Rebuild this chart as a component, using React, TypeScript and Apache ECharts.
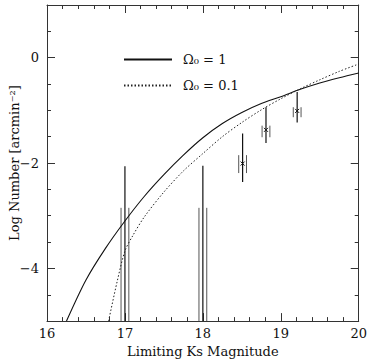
import React, { useEffect, useRef } from "react";
import * as echarts from "echarts";

// Model curves (Limiting Ks magnitude vs log number)
const omega1X = [16.25, 16.5, 16.75, 17.0, 17.25, 17.5, 17.75, 18.0, 18.25, 18.5, 18.75, 19.0, 19.25, 19.5, 19.75, 20.0];
const omega1Y = [-5.0, -4.22, -3.62, -3.1, -2.63, -2.22, -1.85, -1.52, -1.25, -1.04, -0.87, -0.74, -0.6, -0.48, -0.38, -0.29];
const omega01X = [16.79, 16.9, 17.0, 17.1, 17.25, 17.5, 17.75, 18.0, 18.25, 18.5, 18.75, 19.0, 19.25, 19.5, 19.75, 20.0];
const omega01Y = [-5.0, -4.25, -3.67, -3.38, -3.02, -2.55, -2.15, -1.82, -1.5, -1.23, -0.99, -0.78, -0.59, -0.42, -0.26, -0.12];

// Observed counts with error bars
const pointX = [17.0, 18.0, 18.51, 18.81, 19.21];
const pointY = [-6.0, -6.0, -2.01, -1.37, -1.01];
const errHigh = [-2.06, -2.05, -1.44, -0.94, -0.65];
const errLow = [-7.0, -7.0, -2.36, -1.62, -1.23];
const sideLeftX = [16.95, 17.95, 18.46, 18.76, 19.16];
const sideRightX = [17.05, 18.05, 18.56, 18.86, 19.26];
const sideHigh = [-2.85, -2.85, -1.85, -1.29, -0.94];
const sideLow = [-7.0, -7.0, -2.19, -1.51, -1.13];

const xTickValues = [16, 17, 18, 19, 20];
const xTickLabels = ["16", "17", "18", "19", "20"];
const yTickValues = [-4, -2, 0];
const yTickLabels = ["\u22124", "\u22122", "0"];

const seriesNames = ["\u03A9\u2080 = 1", "\u03A9\u2080 = 0.1"];

const X_MIN = 16, X_MAX = 20, Y_MIN = -5, Y_MAX = 1;
const FONT = "DejaVu Serif";
const AXIS_COLOR = "#333";

export default function App() {
  const ref = useRef<HTMLDivElement>(null);
  useEffect(() => {
    document.body.style.margin = "0";
    const chart = echarts.init(ref.current!, null, { renderer: "svg" });
    const clampY = (v: number) => Math.min(Math.max(v, Y_MIN), Y_MAX);
    const errData = pointX.map((x, i) => [x, pointY[i], errLow[i], errHigh[i], sideLeftX[i], sideRightX[i], sideLow[i], sideHigh[i]]);

    const baseX = {
      type: "value",
      min: X_MIN,
      max: X_MAX,
      interval: 1,
      splitLine: { show: false },
      axisLine: { show: true, onZero: false, lineStyle: { color: AXIS_COLOR, width: 1 } },
      axisTick: { show: true, inside: true, length: 8, lineStyle: { color: AXIS_COLOR, width: 1 } },
      minorTick: { show: true, splitNumber: 5, length: 4, lineStyle: { color: AXIS_COLOR, width: 1 } },
    };
    const baseYMinor = {
      type: "value",
      min: Y_MIN,
      max: Y_MAX,
      interval: 0.5,
      splitLine: { show: false },
      axisLine: { show: true, onZero: false, lineStyle: { color: AXIS_COLOR, width: 1 } },
      axisTick: { show: true, inside: true, length: 4, lineStyle: { color: AXIS_COLOR, width: 1 } },
      axisLabel: { show: false },
    };
    const baseYMajor = {
      type: "value",
      min: Y_MIN,
      max: Y_MAX,
      interval: 0.5,
      splitLine: { show: false },
      axisLine: { show: false },
      axisTick: { show: true, inside: true, length: 8, customValues: yTickValues, lineStyle: { color: AXIS_COLOR, width: 1 } },
      axisLabel: { show: false },
    };

    chart.setOption({
      animation: false,
      grid: { left: 41, top: 5, right: 4, bottom: 35, containLabel: false },
      legend: {
        show: true,
        orient: "vertical",
        left: 123,
        top: 53,
        padding: 0,
        itemWidth: 48,
        itemHeight: 14,
        itemGap: 13,
        selectedMode: false,
        data: seriesNames,
        itemStyle: { opacity: 0 },
        textStyle: { fontFamily: FONT, fontSize: 13, color: "#111", padding: [0, 0, 0, 6] },
      },
      xAxis: [
        {
          ...baseX,
          position: "bottom",
          axisLabel: {
            show: true,
            margin: 6,
            fontFamily: FONT,
            fontSize: 13,
            color: "#111",
            formatter: (v: number) => {
              const i = xTickValues.indexOf(Math.round(v * 1000) / 1000);
              return i >= 0 ? xTickLabels[i] : "";
            },
          },
          name: "Limiting Ks Magnitude",
          nameLocation: "middle",
          nameGap: 19,
          nameTextStyle: { fontFamily: FONT, fontSize: 13, color: "#111" },
        },
        { ...baseX, position: "top", axisLabel: { show: false } },
      ],
      yAxis: [
        {
          ...baseYMinor,
          position: "left",
          name: "Log Number [arcmin\u207B\u00B2]",
          nameLocation: "middle",
          nameGap: 26,
          nameRotate: 90,
          nameTextStyle: { fontFamily: FONT, fontSize: 13, color: "#111" },
        },
        {
          ...baseYMajor,
          position: "left",
          axisLabel: {
            show: true,
            customValues: yTickValues,
            margin: 8,
            fontFamily: FONT,
            fontSize: 13,
            color: "#111",
            formatter: (v: number) => {
              const i = yTickValues.indexOf(Math.round(v * 1000) / 1000);
              return i >= 0 ? yTickLabels[i] : "";
            },
          },
        },
        { ...baseYMinor, position: "right" },
        { ...baseYMajor, position: "right" },
      ],
      series: [
        {
          name: seriesNames[0],
          type: "line",
          xAxisIndex: 0,
          yAxisIndex: 0,
          data: omega1X.map((x, i) => [x, omega1Y[i]]),
          smooth: 0.3,
          symbol: "none",
          clip: true,
          lineStyle: { color: "#111", width: 1.1, type: "solid" },
          itemStyle: { color: "#111" },
        },
        {
          name: seriesNames[1],
          type: "line",
          xAxisIndex: 0,
          yAxisIndex: 0,
          data: omega01X.map((x, i) => [x, omega01Y[i]]),
          smooth: 0.3,
          symbol: "none",
          clip: true,
          lineStyle: { color: "#222", width: 1, type: [1.5, 2] },
          itemStyle: { color: "#222" },
        },
        {
          name: "data",
          type: "custom",
          xAxisIndex: 0,
          yAxisIndex: 0,
          data: errData,
          renderItem: (params: any, api: any) => {
            const x = api.value(0), y = api.value(1);
            const lo = api.value(2), hi = api.value(3);
            const sxl = api.value(4), sxr = api.value(5);
            const slo = api.value(6), shi = api.value(7);
            const mk = (xx: number, a: number, b: number, stroke: string, w: number) => {
              const p1 = api.coord([xx, clampY(a)]);
              const p2 = api.coord([xx, clampY(b)]);
              return { type: "line", shape: { x1: p1[0], y1: p1[1], x2: p2[0], y2: p2[1] }, style: { stroke, lineWidth: w } };
            };
            const children: any[] = [
              mk(sxl, slo, shi, "#555", 1),
              mk(sxr, slo, shi, "#555", 1),
              mk(x, lo, hi, "#111", 1.2),
            ];
            if (y >= Y_MIN && y <= Y_MAX) {
              const c = api.coord([x, y]);
              const s = 2;
              children.push({ type: "line", shape: { x1: c[0] - s, y1: c[1] - s, x2: c[0] + s, y2: c[1] + s }, style: { stroke: "#111", lineWidth: 1 } });
              children.push({ type: "line", shape: { x1: c[0] - s, y1: c[1] + s, x2: c[0] + s, y2: c[1] - s }, style: { stroke: "#111", lineWidth: 1 } });
            }
            return { type: "group", children };
          },
        },
      ],
    });
    return () => chart.dispose();
  }, []);
  return <div ref={ref} style={{ width: 370, height: 363 }} />;
}
